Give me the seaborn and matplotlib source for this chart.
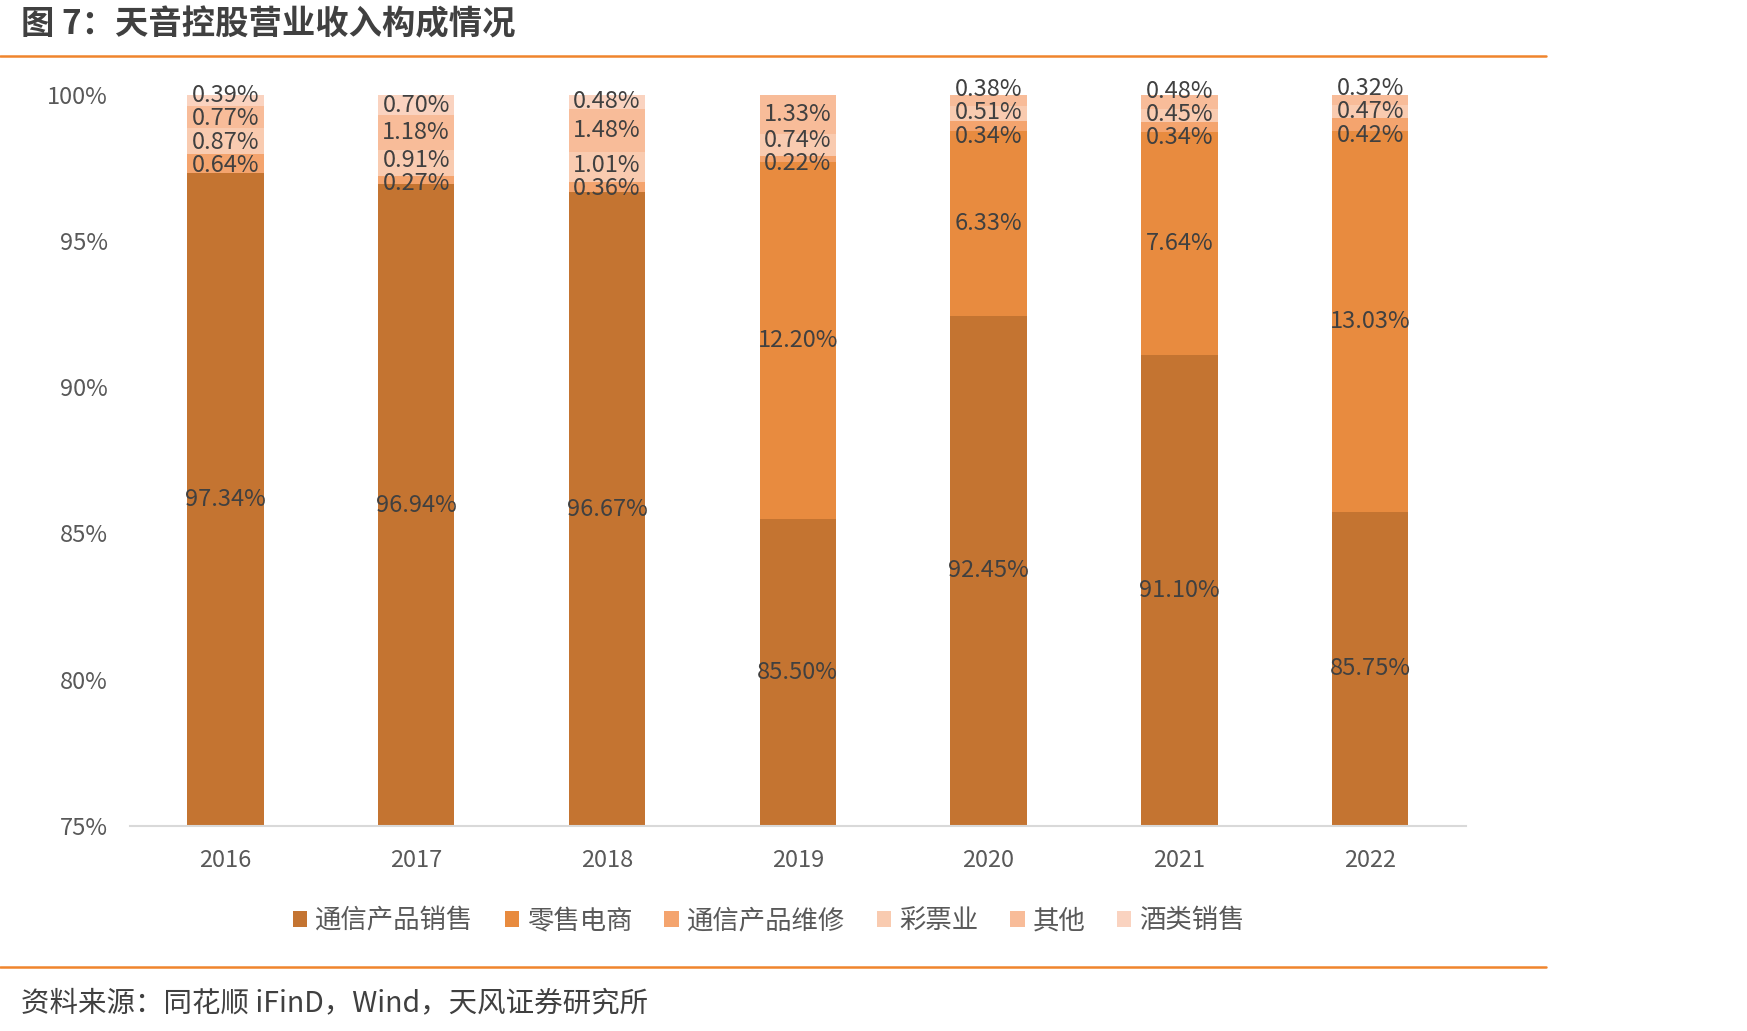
import matplotlib
matplotlib.use('Agg')
import matplotlib.pyplot as plt
import seaborn as sns
import numpy as np

# data (share of revenue, %)
years = ['2016', '2017', '2018', '2019', '2020', '2021', '2022']
series_names = ['通信产品销售', '零售电商', '通信产品维修', '彩票业', '其他', '酒类销售']
sales = [97.34, 96.94, 96.67, 85.50, 92.45, 91.10, 85.75]
ecommerce = [0, 0, 0, 12.20, 6.33, 7.64, 13.03]
repair = [0.64, 0.27, 0.36, 0.22, 0.34, 0.34, 0.42]
lottery = [0.87, 0.91, 1.01, 0.74, 0.51, 0.45, 0.47]
other = [0.77, 1.18, 1.48, 1.33, 0.38, 0.48, 0.32]
liquor = [0.39, 0.70, 0.48, 0, 0, 0, 0]
colors = ['#C47431', '#E88B3F', '#F4A46E', '#F9CBB0', '#F8BC99', '#FAD3C0']

sns.set_style('white')
plt.rcParams['font.family'] = ['Noto Sans CJK SC', 'DejaVu Sans']

fig = plt.figure(figsize=(17.47, 10.31), dpi=100)
ax = fig.add_axes([0.0744, 0.199, 0.7645, 0.709])

y_min, y_max = 75, 100

all_series = [sales, ecommerce, repair, lottery, other, liquor]
bottom = np.zeros(len(years))
for name, vals, c in zip(series_names, all_series, colors):
    vals = np.array(vals, dtype=float)
    sns.barplot(x=years, y=vals, bottom=bottom, color=c, saturation=1, width=0.4,
                linewidth=0, label=name, ax=ax)
    bottom = bottom + vals

# data labels at the centre of the visible part of each segment,
# small ones spread apart like Excel does
min_gap = 0.8  # in % units
for i in range(len(years)):
    vals = np.array([s[i] for s in all_series], dtype=float)
    tops = np.cumsum(vals)
    lows = np.maximum(tops - vals, y_min)
    mids = (lows + tops) / 2
    keep = vals > 0
    ys = mids[keep].copy()
    small = vals[keep] < 3
    txt = [f'{v:.2f}%' for v in vals[keep]]
    for _ in range(200):
        moved = False
        for k in range(1, len(ys)):
            gap = ys[k] - ys[k - 1]
            if gap < min_gap and small[k]:
                d = (min_gap - gap) / 2
                ys[k] += d
                ys[k - 1] -= d
                moved = True
        if not moved:
            break
    for y, t in zip(ys, txt):
        ax.text(i, y, t, ha='center', va='center', fontsize=17, color='#404040')

ax.set_ylim(y_min, y_max)
ax.set_xlim(-0.5, 6.5)
ax.set_yticks([75, 80, 85, 90, 95, 100])
ax.set_yticklabels(['75%', '80%', '85%', '90%', '95%', '100%'])
ax.tick_params(axis='both', length=0, labelsize=17, labelcolor='#595959')
ax.tick_params(axis='y', pad=16)
ax.tick_params(axis='x', pad=17)
ax.set_xlabel('')
ax.set_ylabel('')
for s in ['top', 'right', 'left']:
    ax.spines[s].set_visible(False)
ax.spines['bottom'].set_color('#D9D9D9')
ax.spines['bottom'].set_linewidth(1.5)

ax.legend(loc='center', bbox_to_anchor=(0.44, 0.107), bbox_transform=fig.transFigure,
          ncol=6, frameon=False, fontsize=19, handlelength=0.55, handleheight=0.55,
          handletextpad=0.3, columnspacing=1.2, labelcolor='#595959')

# header / footer
fig.text(0.012, 0.976, '图 7：天音控股营业收入构成情况', fontsize=24, fontweight='bold',
         color='#404040', va='center', ha='left')
fig.add_artist(plt.Line2D([0, 0.885], [0.946, 0.946], color='#F0852D', lw=1.8))
fig.add_artist(plt.Line2D([0, 0.885], [0.062, 0.062], color='#F0852D', lw=1.8))
fig.text(0.012, 0.027, '资料来源：同花顺 iFinD，Wind，天风证券研究所', fontsize=20.5,
         color='#404040', va='center', ha='left')

fig.savefig('out.png', dpi=100)
